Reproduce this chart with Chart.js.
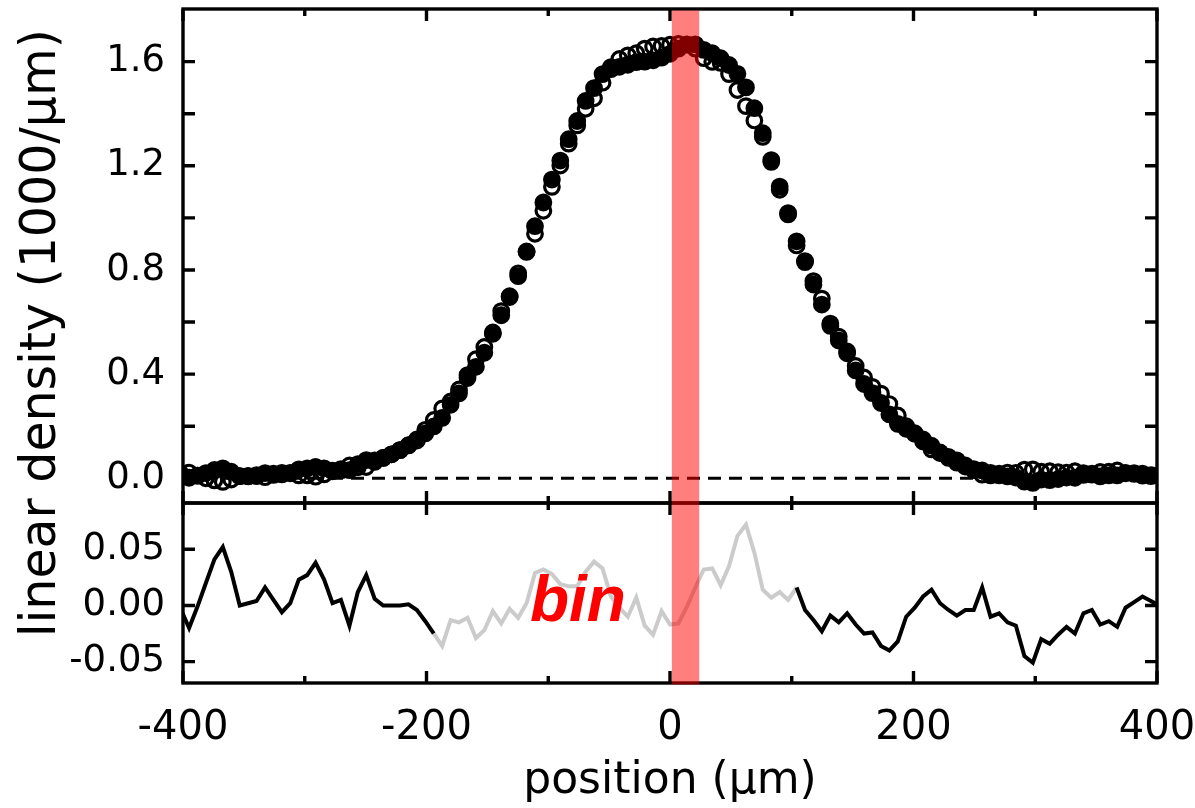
<!DOCTYPE html>
<html>
<head>
<meta charset="utf-8">
<script src="https://cdn.jsdelivr.net/npm/chart.js@4.4.1/dist/chart.umd.min.js"></script>
<style>
html, body { margin: 0; padding: 0; background: #fff; }
canvas { display: block; }
</style>
</head>
<body>
<canvas id="myChart" width="1195" height="808"></canvas>
<script>
// sample positions along the cloud (um)
var positions = [-401.9, -395.0, -388.1, -381.2, -374.2, -367.3, -360.4, -353.4, -346.5, -339.6,
    -332.6, -325.7, -318.8, -311.9, -304.9, -298.0, -291.1, -284.1, -277.2, -270.3,
    -263.3, -256.4, -249.5, -242.6, -235.6, -228.7, -221.8, -214.8, -207.9, -201.0,
    -194.0, -187.1, -180.2, -173.3, -166.3, -159.4, -152.5, -145.5, -138.6, -131.7,
    -124.7, -117.8, -110.9, -104.0, -97.0, -90.1, -83.2, -76.2, -69.3, -62.4,
    -55.4, -48.5, -41.6, -34.7, -27.7, -20.8, -13.9, -6.9, 0, 6.9,
    13.9, 20.8, 27.7, 34.7, 41.6, 48.5, 55.4, 62.4, 69.3, 76.2,
    83.2, 90.1, 97.0, 104.0, 110.9, 117.8, 124.7, 131.7, 138.6, 145.5,
    152.5, 159.4, 166.3, 173.3, 180.2, 187.1, 194.0, 201.0, 207.9, 214.8,
    221.8, 228.7, 235.6, 242.6, 249.5, 256.4, 263.3, 270.3, 277.2, 284.1,
    291.1, 298.0, 304.9, 311.9, 318.8, 325.7, 332.6, 339.6, 346.5, 353.4,
    360.4, 367.3, 374.2, 381.2, 388.1, 395.0, 401.9]

// filled circles, linear density (1000/um)
var filledDensity = [0.014, 0.002, 0.010, 0.020, 0.032, 0.038, 0.025, 0.008, 0.009, 0.012,
    0.020, 0.018, 0.015, 0.021, 0.034, 0.038, 0.044, 0.038, 0.029, 0.035,
    0.031, 0.054, 0.070, 0.069, 0.078, 0.092, 0.108, 0.127, 0.145, 0.172,
    0.199, 0.232, 0.282, 0.326, 0.385, 0.428, 0.482, 0.555, 0.626, 0.696,
    0.776, 0.871, 0.968, 1.059, 1.147, 1.220, 1.302, 1.372, 1.449, 1.498,
    1.552, 1.571, 1.580, 1.588, 1.598, 1.600, 1.605, 1.615, 1.630, 1.650,
    1.665, 1.666, 1.645, 1.632, 1.613, 1.587, 1.553, 1.501, 1.421, 1.325,
    1.222, 1.120, 1.018, 0.910, 0.830, 0.744, 0.667, 0.585, 0.529, 0.480,
    0.414, 0.362, 0.327, 0.289, 0.245, 0.209, 0.190, 0.171, 0.149, 0.125,
    0.099, 0.078, 0.060, 0.045, 0.031, 0.030, 0.011, 0.011, 0.007, 0.003,
    -0.013, -0.018, -0.005, -0.007, -0.003, 0.003, 0.002, 0.013, 0.014, 0.007,
    0.011, 0.011, 0.019, 0.020, 0.018, 0.012, 0.010]

// open circles
var openDensity = [0.017, 0.022, 0.010, 0.000, -0.008, -0.014, -0.005, 0.008, 0.007, 0.008,
    0.004, 0.013, 0.021, 0.019, 0.011, 0.011, 0.006, 0.015, 0.027, 0.030,
    0.049, 0.042, 0.043, 0.063, 0.078, 0.092, 0.108, 0.126, 0.149, 0.186,
    0.224, 0.268, 0.295, 0.341, 0.396, 0.457, 0.504, 0.560, 0.642, 0.699,
    0.787, 0.869, 0.939, 1.027, 1.119, 1.201, 1.285, 1.355, 1.419, 1.459,
    1.519, 1.579, 1.610, 1.624, 1.632, 1.650, 1.658, 1.660, 1.665, 1.668,
    1.666, 1.650, 1.613, 1.599, 1.595, 1.552, 1.491, 1.429, 1.374, 1.311,
    1.215, 1.108, 1.013, 0.894, 0.834, 0.757, 0.690, 0.594, 0.544, 0.487,
    0.431, 0.387, 0.351, 0.325, 0.285, 0.241, 0.200, 0.173, 0.141, 0.111,
    0.097, 0.082, 0.069, 0.049, 0.035, 0.014, 0.021, 0.018, 0.022, 0.021,
    0.033, 0.034, 0.025, 0.027, 0.023, 0.022, 0.027, 0.020, 0.018, 0.024,
    0.025, 0.030, 0.021, 0.017, 0.010, 0.008, 0.010]

// lower panel
var residual = [-0.003, -0.020, -0.001, 0.020, 0.041, 0.052, 0.030, 0.000, 0.002, 0.004,
    0.016, 0.005, -0.006, 0.002, 0.023, 0.027, 0.038, 0.023, 0.002, 0.005,
    -0.018, 0.012, 0.027, 0.006, 0.000, 0.000, 0.000, 0.001, -0.004, -0.014,
    -0.025, -0.036, -0.013, -0.015, -0.011, -0.029, -0.022, -0.005, -0.016, -0.003,
    -0.011, 0.002, 0.029, 0.032, 0.028, 0.019, 0.017, 0.017, 0.030, 0.039,
    0.033, 0.008, -0.002, -0.010, 0.007, -0.018, -0.026, -0.005, -0.017, -0.016,
    -0.001, 0.016, 0.032, 0.033, 0.018, 0.035, 0.062, 0.072, 0.047, 0.014,
    0.007, 0.012, 0.005, 0.016, -0.004, -0.013, -0.023, -0.009, -0.015, -0.007,
    -0.017, -0.025, -0.024, -0.036, -0.040, -0.032, -0.010, -0.002, 0.008, 0.014,
    0.002, -0.004, -0.009, -0.004, -0.004, 0.016, -0.010, -0.007, -0.015, -0.018,
    -0.045, -0.051, -0.030, -0.034, -0.026, -0.019, -0.025, -0.007, -0.004, -0.017,
    -0.014, -0.019, -0.002, 0.003, 0.008, 0.004, 0.000]

var grayFrom = -195   // residual drawn gray between these positions
var grayTo = 105
var binRange = [1.5, 24]
var binLabel = { x: -115, y: -0.014 }

var xRange = [-400, 400]
var xMajorTicks = [-400, -200, 0, 200, 400]
var xMinorTicks = [-300, -100, 100, 300]
var densityRange = [-0.095, 1.802]
var densityTicks = [0, 0.4, 0.8, 1.2, 1.6]
var densityMinorTicks = [0.2, 0.6, 1.0, 1.4]
var residualRange = [-0.069, 0.0912]
var residualTicks = [-0.05, 0, 0.05]

var font = '"DejaVu Sans", sans-serif'

function pts(ys) {
    return positions.map(function (x, i) { return { x: x, y: ys[i] } })
}

// fixed axis boxes, no label overflow padding
function fitBox(w, h) {
    return function (s) {
        if (w) s.width = w
        if (h) s.height = h
        s.paddingTop = 0; s.paddingBottom = 0; s.paddingLeft = 0; s.paddingRight = 0
    }
}

// frame, inward ticks, label and the bin band
var decorations = {
    id: 'decorations',
    afterDatasetsDraw: function (chart) {
        var ctx = chart.ctx
        var xs = chart.scales.x
        ctx.save()
        ctx.strokeStyle = '#000'
        ctx.lineWidth = 3.4
        ctx.lineCap = 'butt'
        var panels = [[chart.scales.y, densityTicks, densityMinorTicks], [chart.scales.yr, residualTicks, []]]
        panels.forEach(function (p) {
            var ys = p[0]
            ctx.beginPath()
            xMajorTicks.concat(xMinorTicks).forEach(function (v) {
                var len = xMajorTicks.indexOf(v) >= 0 ? 12 : 7
                var px = xs.getPixelForValue(v)
                ctx.moveTo(px, ys.top); ctx.lineTo(px, ys.top + len)
                ctx.moveTo(px, ys.bottom); ctx.lineTo(px, ys.bottom - len)
            })
            p[1].concat(p[2]).forEach(function (v) {
                var py = ys.getPixelForValue(v)
                ctx.moveTo(xs.left, py); ctx.lineTo(xs.left + 12, py)
                ctx.moveTo(xs.right, py); ctx.lineTo(xs.right - 12, py)
            })
            ctx.stroke()
            ctx.strokeRect(xs.left, ys.top, xs.right - xs.left, ys.bottom - ys.top)
        })

        var yr = chart.scales.yr
        ctx.fillStyle = '#ff0000'
        ctx.font = 'italic bold 64px "Liberation Sans", Arial, sans-serif'
        ctx.textAlign = 'left'
        ctx.textBaseline = 'alphabetic'
        ctx.fillText('bin', xs.getPixelForValue(binLabel.x), yr.getPixelForValue(binLabel.y))

        var b0 = xs.getPixelForValue(binRange[0])
        var b1 = xs.getPixelForValue(binRange[1])
        ctx.fillStyle = 'rgba(255, 0, 0, 0.5)'
        ctx.fillRect(b0, chart.scales.y.top + 1.5, b1 - b0, yr.bottom - chart.scales.y.top)

        // y title spans both panels
        ctx.fillStyle = '#000'
        ctx.font = '49px ' + font
        ctx.textAlign = 'center'
        ctx.textBaseline = 'middle'
        ctx.translate(42, 333)
        ctx.rotate(-Math.PI / 2)
        ctx.fillText('linear density (1000/\u03bcm)', 0, 0)
        ctx.restore()
    }
}

var ctx = document.getElementById('myChart').getContext('2d')
var myChart = new Chart(ctx, {
    type: 'scatter',
    data: {
        datasets: [{
            label: 'filled',
            data: pts(filledDensity),
            yAxisID: 'y',
            pointRadius: 7.3,
            pointBorderWidth: 3.2,
            pointBackgroundColor: '#000',
            pointBorderColor: '#000'
        }, {
            label: 'open',
            data: pts(openDensity),
            yAxisID: 'y',
            pointRadius: 7.3,
            pointBorderWidth: 3.2,
            pointBackgroundColor: 'rgba(0,0,0,0)',
            pointBorderColor: '#000'
        }, {
            label: 'zero',
            data: xRange.map(function (x) { return { x: x, y: 0 } }),
            yAxisID: 'y',
            showLine: true,
            pointRadius: 0,
            borderColor: '#000',
            borderWidth: 3,
            borderDash: [13, 8]
        }, {
            label: 'residual',
            data: pts(residual),
            yAxisID: 'yr',
            showLine: true,
            pointRadius: 0,
            borderColor: '#000',
            borderWidth: 4,
            segment: {
                borderColor: function (c) {
                    return (c.p0.parsed.x >= grayFrom && c.p1.parsed.x <= grayTo) ? '#cbcbcb' : '#000'
                }
            }
        }]
    },
    options: {
        responsive: false,
        devicePixelRatio: 1,
        animation: false,
        events: [],
        layout: { autoPadding: false, padding: { left: 0, right: 38, top: 9, bottom: 0 } },
        plugins: { legend: { display: false }, tooltip: { enabled: false } },
        scales: {
            yr: {
                type: 'linear',
                position: 'left',
                stack: 'panels',
                stackWeight: 180,
                min: residualRange[0],
                max: residualRange[1],
                grid: { display: false, drawTicks: false },
                border: { display: false },
                afterFit: fitBox(183, 0),
                afterBuildTicks: function (s) { s.ticks = residualTicks.map(function (v) { return { value: v } }) },
                ticks: {
                    padding: 18,
                    color: '#000',
                    font: { family: font, size: 37 },
                    callback: function (v) { return Number(v).toFixed(2) }
                }
            },
            y: {
                type: 'linear',
                position: 'left',
                stack: 'panels',
                stackWeight: 494,
                min: densityRange[0],
                max: densityRange[1],
                grid: { display: false, drawTicks: false },
                border: { display: false },
                afterFit: fitBox(183, 0),
                afterBuildTicks: function (s) { s.ticks = densityTicks.map(function (v) { return { value: v } }) },
                ticks: {
                    padding: 18,
                    color: '#000',
                    font: { family: font, size: 37 },
                    callback: function (v) { return Number(v).toFixed(1) }
                }
            },
            x: {
                type: 'linear',
                position: 'bottom',
                min: xRange[0],
                max: xRange[1],
                grid: { display: false, drawTicks: false },
                border: { display: false },
                afterFit: fitBox(0, 125),
                afterBuildTicks: function (s) { s.ticks = xMajorTicks.map(function (v) { return { value: v } }) },
                ticks: {
                    padding: 22,
                    maxRotation: 0,
                    color: '#000',
                    font: { family: font, size: 40 },
                    callback: function (v) { return String(v) }
                },
                title: {
                    display: true,
                    text: 'position (\u03bcm)',
                    color: '#000',
                    font: { family: font, size: 44 },
                    padding: { top: 0, bottom: 0 }
                }
            }
        }
    },
    plugins: [decorations]
})
</script>
</body>
</html>
